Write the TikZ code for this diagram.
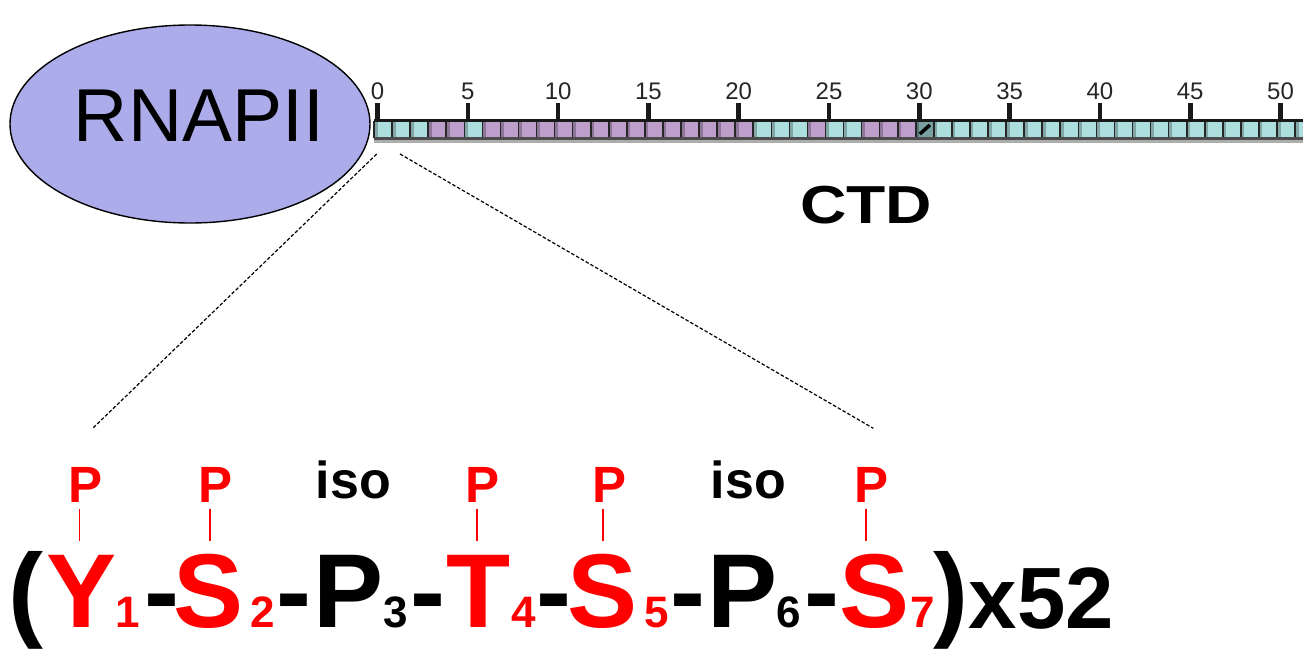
\documentclass[tikz,border=0pt]{standalone}
\usepackage{fontspec}
\setmainfont{Liberation Sans}
\usetikzlibrary{shapes.geometric}
\newcommand\myfs[1]{\fontsize{#1}{#1}\selectfont}
\definecolor{ellc}{RGB}{172,172,235}
\definecolor{tealc}{RGB}{173,222,222}
\definecolor{purpc}{RGB}{190,158,203}
\definecolor{hatchc}{RGB}{120,160,160}
\definecolor{pred}{RGB}{255,0,0}
\tikzset{
  big/.style={font=\bfseries\myfs{105}, inner sep=0pt, anchor=base},
  subn/.style={font=\bfseries\myfs{44}, inner sep=0pt, anchor=base},
  rep/.style={font=\bfseries\myfs{87}, inner sep=0pt, anchor=base},
  pmark/.style={font=\bfseries\myfs{51}, inner sep=0pt, anchor=base, text=pred},
  isol/.style={font=\bfseries\myfs{52}, inner sep=0pt, anchor=base},
  pline/.style={draw=pred, line width=1.6pt},
  zoomline/.style={draw=black, line width=1.2pt, dash pattern=on 3.5pt off 2pt},
  ticklab/.style={font=\myfs{24}, inner sep=0pt, anchor=base, text=black!85},
}
\begin{document}
\begin{tikzpicture}[x=1pt,y=-1pt]
\useasboundingbox (0,0) rectangle (1303,651);
% CTD bar
\fill[tealc] (374,122) rectangle (1320,137);
\foreach \i in {3,4,6,7,...,20,24,27,28,29}
  \fill[purpc] ({374+18.06*\i},122) rectangle ({374+18.06*(\i+1)},137);
\fill[hatchc] ({374+18.06*30},122) rectangle ({374+18.06*31},137);
\draw[black, line width=3.5pt] ({374+18.06*30+4},134) -- ({374+18.06*31-4},125);
\foreach \i in {0,...,52}{
  \fill[black, opacity=0.25] ({374+18.06*\i},122) rectangle ({374+18.06*\i+3.5},137);
  \draw[black!85, line width=1.6pt] ({374+18.06*\i},121) -- ({374+18.06*\i},138);
}
\fill[black!70] (374,137) rectangle (1320,139.5);
\fill[black!32] (374,139.5) rectangle (1320,142.5);
\fill[black!90] (374,118.5) rectangle (1320,121.8);
\foreach \k in {0,...,10}{
  \pgfmathtruncatemacro\lab{5*\k}
  \fill[black!90] ({377.5+90.3*\k-2.3},103) rectangle ({377.5+90.3*\k+2.3},122);
  \node[ticklab] (tl\k) at ({377.5+90.3*\k},99) {\lab};
}
% RNAPII
\node[ellipse, draw=black, fill=ellc, line width=1.4pt, minimum width=360pt, minimum height=198pt, inner sep=0pt] (rnap) at (190,124) {};
\node[font=\myfs{75}, inner sep=0pt, anchor=base] (rnaptxt) at (199,141.7) {RNAPII};
% CTD label
\node[font=\bfseries\myfs{53.5}, inner sep=0pt, anchor=base, xscale=1.2] (ctd) at (866,223.3) {CTD};
% zoom lines
\coordinate (dl1) at (376.7,154);
\coordinate (dl2) at (92.7,428.3);
\coordinate (dr1) at (400,154);
\coordinate (dr2) at (873.3,428.3);
\draw[zoomline] (dl1) -- (dl2);
\draw[zoomline] (dr1) -- (dr2);
% sequence
\node[big] (lp) at (26,627) {(};
\node[big, text=pred] (Y) at (81.7,627) {Y};
\node[subn, text=pred] (n1) at (127.5,627) {1};
\node[big] (h1) at (161.7,627) {-};
\node[big, text=pred] (S2) at (208.8,627) {S};
\node[subn, text=pred] (n2) at (262.5,627) {2};
\node[big] (h2) at (294,627) {-};
\node[big] (P3) at (349,627) {P};
\node[subn] (n3) at (395.5,627) {3};
\node[big] (h3) at (428,627) {-};
\node[big, text=pred] (T4) at (478.3,627) {T};
\node[subn, text=pred] (n4) at (524.2,627) {4};
\node[big] (h4) at (554,627) {-};
\node[big, text=pred] (S5) at (602.5,627) {S};
\node[subn, text=pred] (n5) at (656.5,627) {5};
\node[big] (h5) at (688,627) {-};
\node[big] (P6) at (743,627) {P};
\node[subn] (n6) at (789.2,627) {6};
\node[big] (h6) at (821.7,627) {-};
\node[big, text=pred] (S7) at (874.2,627) {S};
\node[subn, text=pred] (n7) at (922.5,627) {7};
\node[big] (rp) at (951,627) {)};
\node[rep] (x52) at (1041.5,628) {x52};
% phospho marks
\node[pmark] (pY) at (85.3,502) {P};
\node[pmark] (pS2) at (215.8,502) {P};
\node[pmark] (pT4) at (483,502) {P};
\node[pmark] (pS5) at (609,502) {P};
\node[pmark] (pS7) at (871.7,502) {P};
\node[isol] (iso1) at (353.3,498) {iso};
\node[isol] (iso2) at (748.3,498) {iso};
\foreach \p in {pY,pS2,pT4,pS5,pS7}
  \draw[pline] ([xshift=-6pt,yshift=-7pt]\p.base) -- ([xshift=-6pt,yshift=-39pt]\p.base);
\end{tikzpicture}
\end{document}
